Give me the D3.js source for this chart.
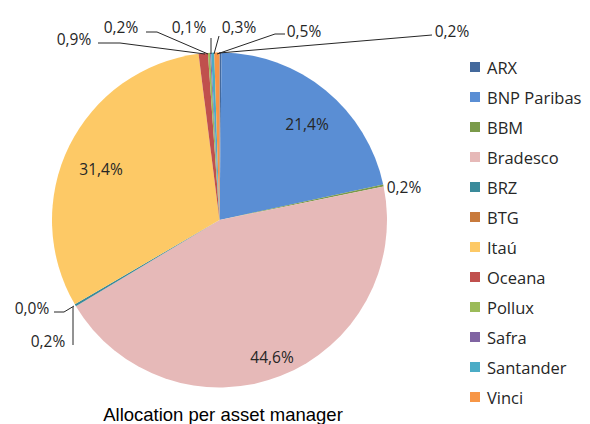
<!DOCTYPE html>
<html><head><meta charset="utf-8">
<script src="https://cdn.jsdelivr.net/npm/d3@7"></script>
<style>body{margin:0;background:#fff}svg{display:block}</style>
</head><body>
<script>
const managers = ["ARX","BNP Paribas","BBM","Bradesco","BRZ","BTG","Itaú","Oceana","Pollux","Safra","Santander","Vinci"];
const shares = [0.2,21.4,0.2,44.6,0.2,0.0,31.4,0.9,0.2,0.1,0.3,0.5];
const colors = ["#44699c","#5a8ed4","#7a9a4a","#e6b9b8","#3a8a9a","#c87a3c","#fdc966","#c0504d","#9bbb59","#8064a2","#4bacc6","#f79646"];
const labelText = ["0,2%","21,4%","0,2%","44,6%","0,2%","0,0%","31,4%","0,9%","0,2%","0,1%","0,3%","0,5%"];
const title = "Allocation per asset manager";

// label placement (centre x, centre y) and leader polyline (null = none)
const labelPos = [
  {x:452,y:31,line:[[432,35],[219,53]]},
  {x:307,y:124,line:null},
  {x:404,y:187,line:null},
  {x:272,y:357,line:null},
  {x:48,y:341,line:[[73,345],[73,307]]},
  {x:32,y:308,line:[[54,312],[64,312],[74,306]]},
  {x:101,y:169,line:null},
  {x:74,y:39,line:[[98,43],[120,43],[205,54]]},
  {x:121,y:27,line:[[146,32],[157,32],[208,54]]},
  {x:189,y:27,line:[[211,38],[211,54]]},
  {x:239,y:27,line:[[219,36],[214,54]]},
  {x:304,y:31,line:[[285,34],[275,34],[217,54]]}
];

const W=590,H=424;
const svg=d3.select("body").append("svg").attr("width",W).attr("height",H);
const cx=219.5,cy=220,R=167.5;
const data=managers.map((m,i)=>({name:m,value:shares[i],color:colors[i],label:labelText[i],pos:labelPos[i]}));
const pie=d3.pie().value(d=>d.value).sort(null);
const arc=d3.arc().innerRadius(0).outerRadius(R);
const g=svg.append("g").attr("transform",`translate(${cx},${cy})`);
g.selectAll("path").data(pie(data)).join("path").attr("d",arc).attr("fill",d=>d.data.color);

const font="'Open Sans', 'Noto Sans', sans-serif";
const line=d3.line();
svg.selectAll("path.leader").data(data.filter(d=>d.pos.line)).join("path")
  .attr("class","leader").attr("d",d=>line(d.pos.line)).attr("fill","none").attr("stroke","#262626").attr("stroke-width",1);
svg.selectAll("text.lbl").data(data).join("text").attr("class","lbl")
  .attr("x",d=>d.pos.x).attr("y",d=>d.pos.y).attr("text-anchor","middle")
  .attr("dominant-baseline","central").attr("font-family",font).attr("font-size",15.5)
  .attr("fill","#262626").text(d=>d.label);

// legend
const lg=svg.append("g").attr("transform","translate(470,67)");
const row=lg.selectAll("g").data(data).join("g").attr("transform",(d,i)=>`translate(0,${i*30})`);
row.append("rect").attr("x",0).attr("y",-5).attr("width",10).attr("height",10).attr("fill",d=>d.color);
row.append("text").attr("x",17).attr("y",0).attr("dominant-baseline","central")
  .attr("font-family",font).attr("font-size",16.5).attr("fill","#262626").text(d=>d.name);

svg.append("text").attr("x",223).attr("y",421).attr("text-anchor","middle")
  .attr("font-family","'Liberation Sans', Arial, sans-serif").attr("font-size",18.5).attr("fill","#000").text(title);
</script>
</body></html>
